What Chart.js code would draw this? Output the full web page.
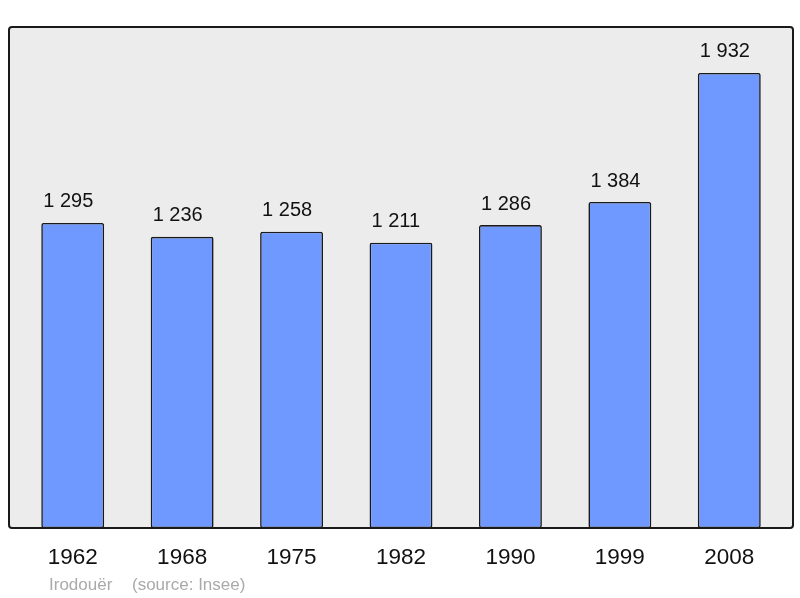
<!DOCTYPE html>
<html>
<head>
<meta charset="utf-8">
<script src="https://cdn.jsdelivr.net/npm/chart.js@4/dist/chart.umd.min.js"></script>
<style>
  html, body { margin: 0; padding: 0; background: #fff; }
  #wrap { width: 800px; height: 598px; }
</style>
</head>
<body>
<div id="wrap"><canvas id="pop" width="800" height="598"></canvas></div>
<script>
"use strict";

// années de recensement et population
const YEARS = ["1962", "1968", "1975", "1982", "1990", "1999", "2008"];
const POPULATION = [1295, 1236, 1258, 1211, 1286, 1384, 1932];
const COMMUNE = "Irodouër";
const SOURCE = "(source: Insee)";

const FONT = "'Liberation Sans', Arial, sans-serif";

function fmtPop(v) {
  // séparateur de milliers : espace
  return String(v).replace(/\B(?=(\d{3})+(?!\d))/g, " ");
}

// cadre gris arrondi derrière les barres
const framePlugin = {
  id: "frame",
  beforeDatasetsDraw(chart) {
    const { ctx, chartArea: a } = chart;
    const x = a.left - 9, y = a.top, w = a.right - a.left + 18, h = a.bottom - a.top;
    ctx.save();
    ctx.beginPath();
    ctx.roundRect(x, y, w, h, 3);
    ctx.fillStyle = "#ececec";
    ctx.fill();
    ctx.restore();
  },
  afterDatasetsDraw(chart) {
    const { ctx, chartArea: a } = chart;
    const x = a.left - 9, y = a.top, w = a.right - a.left + 18, h = a.bottom - a.top;
    ctx.save();
    ctx.beginPath();
    ctx.roundRect(x, y, w, h, 3);
    ctx.lineWidth = 2;
    ctx.strokeStyle = "#1a1a1a";
    ctx.stroke();
    ctx.restore();
  },
  afterDraw(chart) {
    const { ctx, chartArea: a, scales } = chart;
    const bars = chart.getDatasetMeta(0).data;
    ctx.save();
    ctx.textBaseline = "middle";
    // valeurs au-dessus des barres (calées sur le bord gauche de la barre)
    ctx.font = "20px " + FONT;
    ctx.fillStyle = "#111";
    ctx.textAlign = "left";
    POPULATION.forEach((v, i) => {
      const left = bars[i].x - bars[i].width / 2;
      const py = scales.y.getPixelForValue(v);
      ctx.fillText(fmtPop(v), left + 2, py - 21);
    });
    // années
    ctx.textAlign = "center";
    ctx.font = "22.5px " + FONT;
    YEARS.forEach((yr, i) => {
      ctx.fillText(yr, scales.x.getPixelForValue(i), a.bottom + 30);
    });
    // source
    ctx.font = "17px " + FONT;
    ctx.fillStyle = "#aaa";
    ctx.textAlign = "left";
    ctx.fillText(COMMUNE, 49, a.bottom + 57);
    ctx.fillText(SOURCE, 132, a.bottom + 57);
    ctx.restore();
  },
};

new Chart(document.getElementById("pop").getContext("2d"), {
  type: "bar",
  data: {
    labels: YEARS,
    datasets: [
      {
        data: POPULATION,
        backgroundColor: "#7099ff",
        borderColor: "#1a1a1a",
        borderWidth: 1.6,
        borderRadius: 2,
        borderSkipped: false,
        barPercentage: 0.575,
        categoryPercentage: 1,
      },
    ],
  },
  options: {
    responsive: false,
    animation: false,
    layout: { padding: { left: 18, right: 16, top: 27, bottom: 70 } },
    scales: {
      x: { display: false },
      y: { display: false, min: 0, max: 2127 },
    },
    plugins: {
      legend: { display: false },
      tooltip: { enabled: false },
    },
  },
  plugins: [framePlugin],
});
</script>
</body>
</html>
